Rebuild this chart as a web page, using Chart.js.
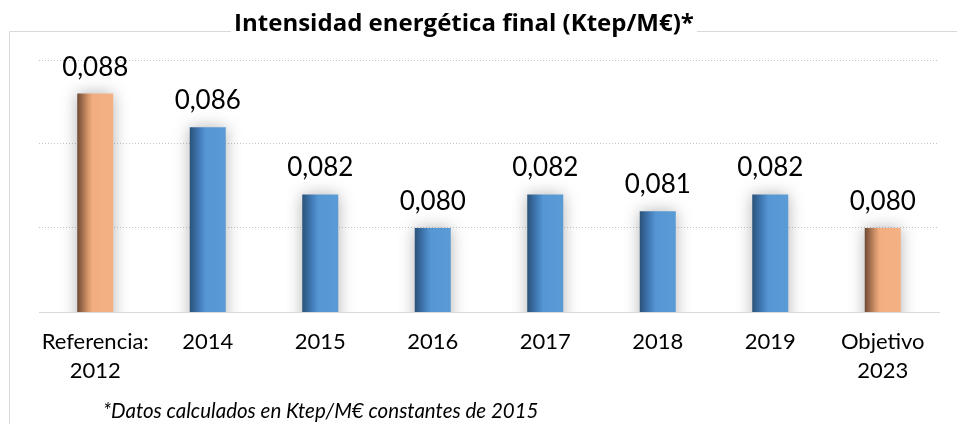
<!DOCTYPE html>
<html>
<head>
<meta charset="utf-8">
<script src="https://cdn.jsdelivr.net/npm/chart.js@4/dist/chart.umd.min.js"></script>
<style>
  html, body { margin: 0; padding: 0; background: #fff; }
  #wrap { width: 957px; height: 424px; position: relative; }
</style>
</head>
<body>
<div id="wrap"><canvas id="chart"></canvas></div>
<script>
// *** DATA ***
var categories = [["Referencia:", "2012"], "2014", "2015", "2016", "2017", "2018", "2019", ["Objetivo", "2023"]];
var values = [0.088, 0.086, 0.082, 0.080, 0.082, 0.081, 0.082, 0.080];
var isTarget = [true, false, false, false, false, false, false, true]; // reference / goal bars
var yTicks = [0.075, 0.080, 0.085, 0.090];
var titleText = "Intensidad energética final (Ktep/M€)*";
var footnoteText = "*Datos calculados en Ktep/M€ constantes de 2015";

var BAR_PCT = 0.32;

function formatValue(v) {
    return v.toFixed(3).replace(".", ",");
}

function barGradient(context) {
    var chart = context.chart;
    var area = chart.chartArea;
    var i = context.dataIndex;
    if (!area || i === undefined) {
        return "#5b9bd5";
    }
    var x = chart.scales.x.getPixelForValue(i);
    var w = (area.right - area.left) / categories.length * BAR_PCT;
    var g = chart.ctx.createLinearGradient(x - w / 2, 0, x + w / 2, 0);
    if (isTarget[i]) {
        g.addColorStop(0, "#6f4a33");
        g.addColorStop(0.3, "#d6956a");
        g.addColorStop(0.42, "#f2ae80");
        g.addColorStop(1, "#f4b183");
    } else {
        g.addColorStop(0, "#2a527a");
        g.addColorStop(0.3, "#4580bd");
        g.addColorStop(0.45, "#5597d4");
        g.addColorStop(1, "#5b9bd5");
    }
    return g;
}

// frame, title, shadows, value labels, footnote
var decorPlugin = {
    id: "decor",
    beforeDraw: function(chart) {
        var ctx = chart.ctx;
        ctx.save();
        ctx.strokeStyle = "#d9d9d9";
        ctx.lineWidth = 1;
        ctx.beginPath();
        ctx.moveTo(9.5, 424);
        ctx.lineTo(9.5, 31.5);
        ctx.lineTo(957, 31.5);
        ctx.stroke();

        ctx.font = "bold 24px 'Open Sans'";
        var tw = ctx.measureText(titleText).width;
        var cx = 464;
        ctx.fillStyle = "#ffffff";
        ctx.fillRect(cx - tw / 2 - 3, 6, tw + 6, 30);
        ctx.fillStyle = "#000000";
        ctx.textAlign = "center";
        ctx.textBaseline = "alphabetic";
        ctx.fillText(titleText, cx, 31);
        ctx.restore();
    },
    beforeDatasetsDraw: function(chart) {
        var ctx = chart.ctx;
        ctx.save();
        ctx.shadowColor = "rgba(0,0,0,0.3)";
        ctx.shadowBlur = 16;
        ctx.shadowOffsetX = 0;
        ctx.shadowOffsetY = 0;
    },
    afterDatasetsDraw: function(chart) {
        var ctx = chart.ctx;
        ctx.restore();
        ctx.save();
        ctx.font = "26px Lato";
        ctx.fillStyle = "#000000";
        ctx.textAlign = "center";
        ctx.textBaseline = "alphabetic";
        var meta = chart.getDatasetMeta(0);
        meta.data.forEach(function(bar, i) {
            ctx.fillText(formatValue(values[i]), bar.x, bar.y - 18);
        });
        ctx.restore();
    },
    afterDraw: function(chart) {
        var ctx = chart.ctx;
        ctx.save();
        ctx.font = "italic 20.5px Lato";
        ctx.fillStyle = "#000000";
        ctx.textAlign = "left";
        ctx.textBaseline = "alphabetic";
        ctx.fillText(footnoteText, 103, 418);
        ctx.restore();
    }
};

var chart = new Chart(document.getElementById("chart"), {
    type: "bar",
    data: {
        labels: categories,
        datasets: [{
            data: values,
            backgroundColor: barGradient,
            borderWidth: 0,
            barPercentage: BAR_PCT,
            categoryPercentage: 1
        }]
    },
    options: {
        responsive: true,
        maintainAspectRatio: false,
        animation: false,
        layout: {
            padding: { left: 39, right: 18, top: 60, bottom: 0 }
        },
        plugins: {
            legend: { display: false },
            title: { display: false },
            tooltip: { enabled: false }
        },
        scales: {
            x: {
                grid: { display: false, drawTicks: false },
                border: { display: true, color: "#d9d9d9", width: 1 },
                ticks: {
                    color: "#000000",
                    font: { family: "Lato", size: 22, lineHeight: 1.3 },
                    padding: 16,
                    maxRotation: 0,
                    autoSkip: false
                },
                afterFit: function(scale) { scale.height = 112; }
            },
            y: {
                min: yTicks[0],
                max: yTicks[yTicks.length - 1],
                afterBuildTicks: function(scale) {
                    scale.ticks = yTicks.map(function(v) { return { value: v }; });
                },
                ticks: { display: false },
                grid: {
                    drawTicks: false,
                    color: function(ctx) { return ctx.index === 0 ? "rgba(0,0,0,0)" : "#c4c4c4"; },
                    lineWidth: 1
                },
                border: { display: false, dash: [1, 2] },
                afterFit: function(scale) { scale.width = 0; }
            }
        }
    },
    plugins: [decorPlugin]
});
</script>
</body>
</html>
